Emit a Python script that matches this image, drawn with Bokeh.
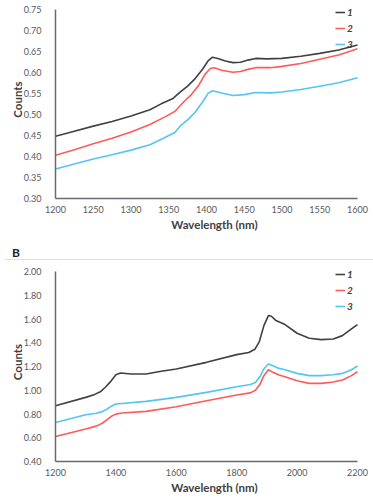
from bokeh.plotting import figure
from bokeh.models import Range1d, Legend, LegendItem, Div, FixedTicker
from bokeh.layouts import column
from bokeh.embed import file_html
from bokeh.resources import INLINE

# ---------- Panel A data ----------
a_x1 = [1200, 1225, 1250, 1275, 1300, 1325, 1340, 1355, 1365, 1375, 1385, 1395, 1402, 1408, 1415, 1425, 1435, 1445, 1455, 1465, 1480, 1500, 1525, 1550, 1575, 1600]
a_s1 = [0.448, 0.460, 0.472, 0.483, 0.496, 0.511, 0.525, 0.537, 0.553, 0.567, 0.585, 0.608, 0.627, 0.636, 0.633, 0.627, 0.623, 0.624, 0.629, 0.633, 0.632, 0.633, 0.638, 0.645, 0.653, 0.665]
a_x2 = [1200, 1225, 1250, 1275, 1300, 1325, 1345, 1358, 1370, 1380, 1390, 1398, 1405, 1410, 1420, 1435, 1445, 1455, 1465, 1485, 1500, 1525, 1550, 1575, 1600]
a_s2 = [0.403, 0.416, 0.430, 0.443, 0.458, 0.476, 0.494, 0.507, 0.530, 0.547, 0.570, 0.595, 0.609, 0.611, 0.605, 0.600, 0.602, 0.607, 0.611, 0.611, 0.614, 0.621, 0.631, 0.641, 0.656]
a_x3 = [1200, 1225, 1250, 1275, 1300, 1325, 1345, 1358, 1365, 1375, 1385, 1395, 1402, 1408, 1420, 1435, 1450, 1465, 1485, 1500, 1525, 1550, 1575, 1600]
a_s3 = [0.370, 0.382, 0.394, 0.404, 0.415, 0.428, 0.445, 0.457, 0.472, 0.487, 0.505, 0.530, 0.550, 0.556, 0.551, 0.545, 0.547, 0.552, 0.551, 0.553, 0.559, 0.567, 0.575, 0.587]
a_xticks = [1200, 1250, 1300, 1350, 1400, 1450, 1500, 1550, 1600]
a_yticks = [0.30, 0.35, 0.40, 0.45, 0.50, 0.55, 0.60, 0.65, 0.70, 0.75]

# ---------- Panel B data ----------
b_x = [1200, 1300, 1330, 1350, 1365, 1380, 1400, 1415, 1450, 1500, 1550, 1600, 1700, 1800, 1840, 1860, 1875, 1890, 1905, 1915, 1930, 1960, 2000, 2040, 2080, 2120, 2150, 2180, 2200]
b_s1 = [0.870, 0.940, 0.965, 0.990, 1.025, 1.066, 1.131, 1.145, 1.137, 1.137, 1.160, 1.179, 1.235, 1.300, 1.318, 1.345, 1.410, 1.544, 1.629, 1.623, 1.587, 1.553, 1.480, 1.438, 1.426, 1.432, 1.460, 1.516, 1.553]
b_x23 = [1200, 1300, 1335, 1355, 1370, 1385, 1400, 1420, 1500, 1600, 1700, 1800, 1845, 1862, 1877, 1890, 1905, 1920, 1940, 1960, 2000, 2040, 2080, 2120, 2150, 2180, 2200]
b_s2 = [0.611, 0.673, 0.698, 0.722, 0.750, 0.781, 0.799, 0.808, 0.822, 0.861, 0.912, 0.960, 0.978, 1.000, 1.050, 1.123, 1.173, 1.151, 1.128, 1.114, 1.080, 1.058, 1.058, 1.069, 1.086, 1.123, 1.156]
b_s3 = [0.729, 0.794, 0.806, 0.820, 0.840, 0.866, 0.884, 0.889, 0.906, 0.940, 0.982, 1.030, 1.048, 1.065, 1.115, 1.179, 1.221, 1.207, 1.184, 1.173, 1.142, 1.123, 1.123, 1.131, 1.142, 1.173, 1.204]
b_xticks = [1200, 1400, 1600, 1800, 2000, 2200]
b_yticks = [0.40, 0.60, 0.80, 1.00, 1.20, 1.40, 1.60, 1.80, 2.00]

series_names = ["1", "2", "3"]
colors = ["#404040", "#FF5A5A", "#52C5F2"]

FONT = "Lato"
AXIS_COLOR = "#6a6a6a"
TICK_COLOR = "#595959"
TITLE_COLOR = "#404040"

W = 373          # figure width (page has no margin)
LEFT = 55        # y-axis position
XPIX = 302       # pixels from first to last x tick


def style(p, xticks, yticks, fmt):
    p.xaxis.ticker = FixedTicker(ticks=xticks)
    p.yaxis.ticker = FixedTicker(ticks=yticks)
    p.xaxis.bounds = (xticks[0], xticks[-1])
    p.yaxis.bounds = (yticks[0], yticks[-1])
    p.yaxis.major_label_overrides = {t: fmt % t for t in yticks}
    p.xaxis.major_label_overrides = {t: str(t) for t in xticks}
    for ax in (p.xaxis, p.yaxis):
        ax.major_tick_out = 0
        ax.major_tick_in = 0
        ax.minor_tick_out = 0
        ax.minor_tick_in = 0
        ax.axis_line_color = AXIS_COLOR
        ax.axis_line_width = 1.5
        ax.major_label_text_font = FONT
        ax.major_label_text_font_size = "9px"
        ax.major_label_text_color = TICK_COLOR
        ax.axis_label_text_font = FONT
        ax.axis_label_text_font_size = "11.5px"
        ax.axis_label_text_font_style = "bold"
        ax.axis_label_text_color = TITLE_COLOR
    p.xaxis.major_label_standoff = 7
    p.xaxis.axis_label_standoff = 2
    p.yaxis.major_label_standoff = 14
    p.yaxis.axis_label_standoff = -3
    p.xgrid.visible = False
    p.ygrid.visible = False
    p.outline_line_color = None
    p.background_fill_color = "white"
    p.border_fill_color = "white"


def add_legend(p, renderers):
    items = [LegendItem(label=n, renderers=[r]) for n, r in zip(series_names, renderers)]
    leg = Legend(items=items, location="top_right", margin=6, padding=0, spacing=4,
                 glyph_width=10, glyph_height=10, label_height=10, label_standoff=2,
                 label_text_font=FONT, label_text_font_size="10px",
                 label_text_font_style="bold italic", label_text_color=TITLE_COLOR,
                 border_line_color=None, background_fill_alpha=0)
    p.add_layout(leg)


# ---------- Panel A ----------
a_span = a_xticks[-1] - a_xticks[0]
pa = figure(width=W, height=240, output_backend="svg", toolbar_location=None,
            min_border_left=LEFT, min_border_right=0, min_border_top=0, min_border_bottom=42,
            x_range=Range1d(a_xticks[0], a_xticks[0] + a_span * (W - LEFT) / XPIX),
            y_range=Range1d(0.30, 0.30 + 0.45 * 198 / 189.3))
ra = []
for xs, ys, c in zip([a_x1, a_x2, a_x3], [a_s1, a_s2, a_s3], colors):
    ra.append(pa.line(xs, ys, line_color=c, line_width=1.6))
pa.xaxis.axis_label = "Wavelength (nm)"
pa.yaxis.axis_label = "Counts"
style(pa, a_xticks, a_yticks, "%.2f")
add_legend(pa, ra)

sep = Div(text="<div style=\"font-family:Lato,sans-serif;font-weight:bold;font-size:12px;"
               "color:#222222;height:20px;line-height:14px;padding:6px 0 0 12px;"
               "box-sizing:border-box;border-bottom:1px solid #e2e2e2;width:368px;"
               "margin-left:5px;\"><span style=\"margin-left:-5px\">B</span></div>",
          width=W, height=22, margin=0)

# ---------- Panel B ----------
b_span = b_xticks[-1] - b_xticks[0]
pb = figure(width=W, height=240, output_backend="svg", toolbar_location=None,
            min_border_left=LEFT, min_border_right=0, min_border_top=0, min_border_bottom=41,
            x_range=Range1d(b_xticks[0], b_xticks[0] + b_span * (W - LEFT) / XPIX),
            y_range=Range1d(0.40, 0.40 + 1.6 * 199 / 190))
rb = []
for xs, ys, c in zip([b_x, b_x23, b_x23], [b_s1, b_s2, b_s3], colors):
    rb.append(pb.line(xs, ys, line_color=c, line_width=1.6))
pb.xaxis.axis_label = "Wavelength (nm)"
pb.yaxis.axis_label = "Counts"
style(pb, b_xticks, b_yticks, "%.2f")
add_legend(pb, rb)

layout = column(pa, sep, pb, spacing=0)
open("out.html", "w").write(file_html(layout, INLINE))
